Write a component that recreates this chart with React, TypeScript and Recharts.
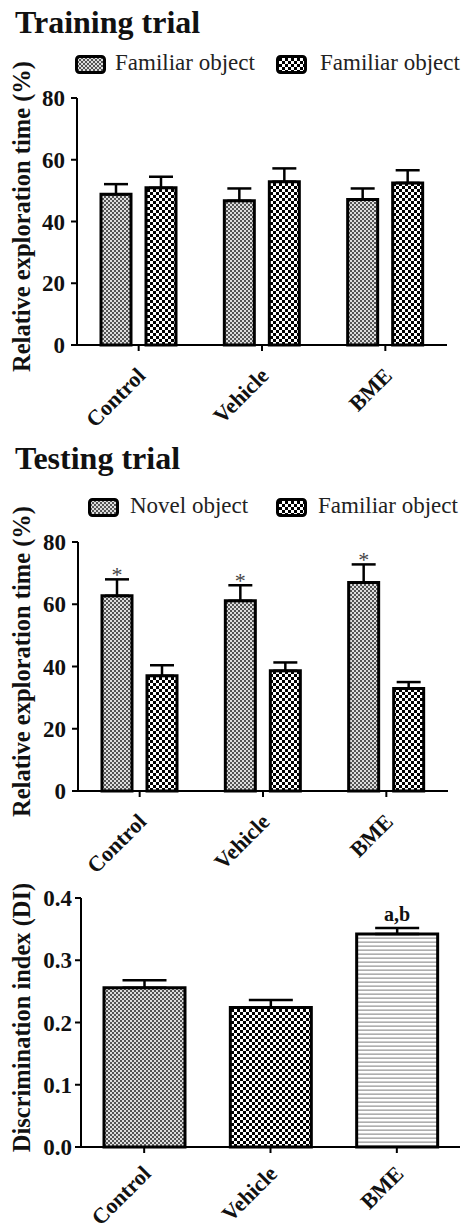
import React from 'react'
import { BarChart, Bar, XAxis, YAxis, ErrorBar, Cell, LabelList } from 'recharts'

const groups = ['Control', 'Vehicle', 'BME']

// Training trial
const trainLegend = ['Familiar object', 'Familiar object']
const trainFirst = [48.8, 46.7, 47.1]
const trainFirstErr = [3.3, 4.0, 3.6]
const trainSecond = [50.9, 52.9, 52.5]
const trainSecondErr = [3.6, 4.3, 4.1]

// Testing trial
const testLegend = ['Novel object', 'Familiar object']
const testNovel = [62.7, 61.1, 67.0]
const testNovelErr = [5.3, 5.0, 5.8]
const testFamiliar = [37.0, 38.6, 32.9]
const testFamiliarErr = [3.4, 2.7, 2.1]
const testMarks = ['*', '*', '*']

// Discrimination index
const diValues = [0.256, 0.224, 0.342]
const diErr = [0.012, 0.012, 0.010]
const diMarks = ['', '', 'a,b']

const pctTicks = [0, 20, 40, 60, 80]
const diTicks = [0, 0.1, 0.2, 0.3, 0.4]

const trainData = groups.map((name, i) => ({
  name,
  first: trainFirst[i], firstErr: [0, trainFirstErr[i]],
  second: trainSecond[i], secondErr: [0, trainSecondErr[i]],
}))
const testData = groups.map((name, i) => ({
  name,
  novel: testNovel[i], novelErr: [0, testNovelErr[i]],
  familiar: testFamiliar[i], familiarErr: [0, testFamiliarErr[i]],
}))
const diData = groups.map((name, i) => ({ name, di: diValues[i], diErr: [0, diErr[i]] }))

const serif = '"Liberation Serif", "Times New Roman", serif'
const diPatterns = ['fine', 'coarse', 'lines']

const Patterns = ({ id }: { id: string }) => (
  <defs>
    <pattern id={`${id}-fine`} width={4} height={4} patternUnits="userSpaceOnUse">
      <rect width={4} height={4} fill="#dedede" />
      <rect width={2} height={2} fill="#555" />
      <rect x={2} y={2} width={2} height={2} fill="#555" />
    </pattern>
    <pattern id={`${id}-coarse`} width={6} height={6} patternUnits="userSpaceOnUse">
      <rect width={6} height={6} fill="#fff" />
      <rect width={3} height={3} fill="#000" />
      <rect x={3} y={3} width={3} height={3} fill="#000" />
    </pattern>
    <pattern id={`${id}-lines`} width={4} height={4} patternUnits="userSpaceOnUse">
      <rect width={4} height={4} fill="#fff" />
      <rect y={1.5} width={4} height={1.3} fill="#9a9a9a" />
    </pattern>
  </defs>
)

const axisStyle = { stroke: '#000', strokeWidth: 2 }
const tickFont = { fontSize: 23, fontWeight: 'bold', fill: '#111', fontFamily: serif }

const slantTick = (drop: number) => ({ x, y, payload }: any) => (
  <g transform={`translate(${x + 8},${y + drop})`}>
    <text textAnchor="end" transform="rotate(-45)" fontSize={22} fontWeight="bold" fill="#111" fontFamily={serif}>
      {payload.value}
    </text>
  </g>
)

const yTitle = (text: string) => (props: any) => {
  const vb = props.viewBox || { x: 0, y: 0, width: 0, height: 0 }
  const cy = vb.y + vb.height / 2 - 5
  return (
    <text x={30} y={cy} transform={`rotate(-90, 30, ${cy})`} textAnchor="middle"
      fontSize={24.5} fontWeight="bold" fill="#111" fontFamily={serif}>
      {text}
    </text>
  )
}

// draws a mark above the error bar cap
const capMark = (errs: number[], marks: string[], bold: boolean, lift: number) => (props: any) => {
  const vb = props.viewBox || props
  const i = props.index ?? 0
  const val = props.value
  if (!marks[i] || !val) return null
  const capY = vb.y - (errs[i] * vb.height) / val
  return (
    <text x={vb.x + vb.width / 2} y={capY - lift} textAnchor="middle"
      fontSize={bold ? 20 : 22} fontWeight={bold ? 'bold' : 'normal'}
      fill={bold ? '#111' : '#444'} fontFamily={serif}>
      {marks[i]}
    </text>
  )
}

const Swatch = ({ id, kind }: { id: string; kind: string }) => (
  <svg width={31} height={19} style={{ display: 'block' }}>
    <Patterns id={id} />
    <rect x={1.5} y={1.5} width={28} height={16} rx={3} fill={`url(#${id}-${kind})`} stroke="#000" strokeWidth={3} />
  </svg>
)

const LegendRow = ({ items, kinds, swatchX, textX, baseline, id }: any) => (
  <>
    {items.map((label: string, i: number) => (
      <React.Fragment key={i}>
        <div style={{ position: 'absolute', left: swatchX[i], top: baseline - 15 }}>
          <Swatch id={`${id}${i}`} kind={kinds[i]} />
        </div>
        <div style={{
          position: 'absolute', left: textX[i], top: baseline - 19, fontSize: 23, lineHeight: '23px',
          fontFamily: serif, color: '#222', whiteSpace: 'nowrap',
        }}>{label}</div>
      </React.Fragment>
    ))}
  </>
)

const Title = ({ text, top }: { text: string; top: number }) => (
  <div style={{
    position: 'absolute', left: 15, top, fontSize: 32, lineHeight: '32px',
    fontWeight: 'bold', fontFamily: serif, color: '#111',
  }}>{text}</div>
)

export default function App() {
  return (
    <div style={{ position: 'absolute', left: 0, top: 0, width: 462, height: 1231, background: '#fff' }}>
      <div style={{ position: 'absolute', left: 0, top: 0 }}>
        <BarChart width={462} height={440} data={trainData} barGap={15}
          margin={{ top: 98, right: 15, left: 0, bottom: 0 }}>
          <Patterns id="tr" />
          <XAxis dataKey="name" height={95} tickSize={6} interval={0}
            axisLine={axisStyle} tickLine={axisStyle} tick={slantTick(24)} />
          <YAxis domain={[0, 80]} ticks={pctTicks} width={77} tickSize={6} tickMargin={6} interval={0}
            axisLine={axisStyle} tickLine={axisStyle} tick={tickFont}
            label={yTitle('Relative exploration time (%)')} />
          <Bar dataKey="first" fill="url(#tr-fine)" stroke="#000" strokeWidth={3} barSize={30} isAnimationActive={false}>
            <ErrorBar dataKey="firstErr" direction="y" width={12} strokeWidth={2.5} stroke="#000" />
          </Bar>
          <Bar dataKey="second" fill="url(#tr-coarse)" stroke="#000" strokeWidth={3} barSize={30} isAnimationActive={false}>
            <ErrorBar dataKey="secondErr" direction="y" width={12} strokeWidth={2.5} stroke="#000" />
          </Bar>
        </BarChart>
      </div>

      <div style={{ position: 'absolute', left: 0, top: 440 }}>
        <BarChart width={462} height={440} data={testData} barGap={15}
          margin={{ top: 102, right: 14, left: 0, bottom: 0 }}>
          <Patterns id="te" />
          <XAxis dataKey="name" height={89} tickSize={6} interval={0}
            axisLine={axisStyle} tickLine={axisStyle} tick={slantTick(24)} />
          <YAxis domain={[0, 80]} ticks={pctTicks} width={78} tickSize={6} tickMargin={6} interval={0}
            axisLine={axisStyle} tickLine={axisStyle} tick={tickFont}
            label={yTitle('Relative exploration time (%)')} />
          <Bar dataKey="novel" fill="url(#te-fine)" stroke="#000" strokeWidth={3} barSize={30} isAnimationActive={false}>
            <ErrorBar dataKey="novelErr" direction="y" width={12} strokeWidth={2.5} stroke="#000" />
            <LabelList dataKey="novel" content={capMark(testNovelErr, testMarks, false, -3)} />
          </Bar>
          <Bar dataKey="familiar" fill="url(#te-coarse)" stroke="#000" strokeWidth={3} barSize={30} isAnimationActive={false}>
            <ErrorBar dataKey="familiarErr" direction="y" width={12} strokeWidth={2.5} stroke="#000" />
          </Bar>
        </BarChart>
      </div>

      <div style={{ position: 'absolute', left: 0, top: 880 }}>
        <BarChart width={462} height={351} data={diData}
          margin={{ top: 18, right: 2, left: 0, bottom: 0 }}>
          <Patterns id="di" />
          <XAxis dataKey="name" height={84} tickSize={6} interval={0}
            axisLine={axisStyle} tickLine={axisStyle} tick={slantTick(20)} />
          <YAxis domain={[0, 0.4]} ticks={diTicks} width={81} tickSize={6} tickMargin={3} interval={0}
            axisLine={axisStyle} tickLine={axisStyle} tick={tickFont}
            tickFormatter={(v: number) => v.toFixed(1)}
            label={yTitle('Discrimination index (DI)')} />
          <Bar dataKey="di" stroke="#000" strokeWidth={3} barSize={81} isAnimationActive={false}>
            {diData.map((d, i) => <Cell key={d.name} fill={`url(#di-${diPatterns[i]})`} />)}
            <ErrorBar dataKey="diErr" direction="y" width={22} strokeWidth={2.5} stroke="#000" />
            <LabelList dataKey="di" content={capMark(diErr, diMarks, true, 7)} />
          </Bar>
        </BarChart>
      </div>

      <Title text="Training trial" top={6} />
      <LegendRow id="lt" items={trainLegend} kinds={['fine', 'coarse']}
        swatchX={[75, 276]} textX={[115, 320]} baseline={70} />
      <Title text="Testing trial" top={442} />
      <LegendRow id="ls" items={testLegend} kinds={['fine', 'coarse']}
        swatchX={[88, 276]} textX={[130, 318]} baseline={513} />
    </div>
  )
}
